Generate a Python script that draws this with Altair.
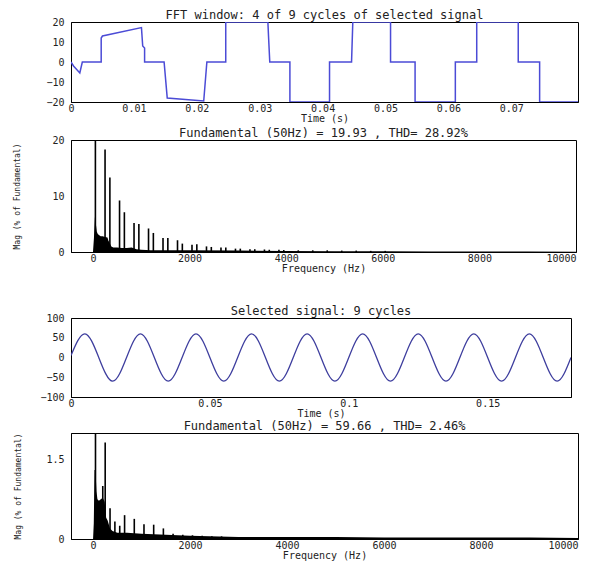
import altair as alt
import pandas as pd

# ---------------- data ----------------
# Panel 1: FFT window (4 of 9 cycles) of the selected signal
sig1_t = [0, 0.0004, 0.0014, 0.0018, 0.0048, 0.0048, 0.0050, 0.0112, 0.0114, 0.0117,
          0.0117, 0.0148, 0.0153, 0.0211, 0.0216, 0.0246, 0.0246, 0.0313, 0.0314, 0.0316,
          0.0348, 0.0348, 0.0411, 0.0411, 0.0446, 0.0448, 0.0508, 0.0508, 0.0547, 0.0547,
          0.0611, 0.0611, 0.0645, 0.0645, 0.0711, 0.0711, 0.0745, 0.0745, 0.0806]
sig1_v = [0, -2, -5.5, 0, 0, 12, 13, 17.2, 8, 7,
          0, 0, -18, -19.5, 0, 0, 20, 20, 13, 0,
          0, -20, -20, 0, 0, 20, 20, 0, 0, -20,
          -20, 0, 0, 20, 20, 0, 0, -20, -20]

# Panel 2: spectrum of the FFT window
h2_f = [50, 250, 350, 550, 650, 850, 950, 1150, 1250, 1450,
        1550, 1750, 1850, 2050, 2150, 2350, 2450, 2650, 2750, 2950,
        3050, 3250, 3350, 3550, 3650, 3850, 3950, 4250, 4550, 4850,
        5150, 5450, 5750, 6050]
h2_m = [100, 18.3, 13.3, 9.2, 7.1, 5.2, 5.0, 4.2, 3.4, 2.5,
        2.5, 2.1, 1.5, 1.3, 1.4, 1.0, 0.9, 0.8, 0.8, 0.6,
        0.6, 0.5, 0.5, 0.45, 0.4, 0.4, 0.35, 0.3, 0.3, 0.3,
        0.25, 0.25, 0.2, 0.2]
a2_f = [0, 20, 40, 60, 80, 100, 130, 160, 200, 250,
        300, 320, 350, 380, 420, 500, 600, 700, 800, 900,
        1000, 1200, 1500, 2000, 3000, 4000, 5000, 6000, 7000, 8000,
        9000, 10000]
a2_m = [0, 2.5, 6.2, 5.0, 3.6, 3.2, 3.0, 2.8, 2.8, 2.7,
        2.6, 2.0, 1.5, 1.0, 0.8, 0.8, 0.7, 0.7, 0.8, 0.5,
        0.4, 0.3, 0.3, 0.3, 0.25, 0.2, 0.15, 0.15, 0.1, 0.1,
        0.08, 0.05]

# Panel 3: selected signal, 9 cycles (samples every quarter period)
sig3_t = [0, 0.005, 0.010, 0.015, 0.020, 0.025, 0.030, 0.035, 0.040, 0.045,
          0.050, 0.055, 0.060, 0.065, 0.070, 0.075, 0.080, 0.085, 0.090, 0.095,
          0.100, 0.105, 0.110, 0.115, 0.120, 0.125, 0.130, 0.135, 0.140, 0.145,
          0.150, 0.155, 0.160, 0.165, 0.170, 0.175, 0.180]
sig3_v = [5, 60, 0, -60, 0, 60, 0, -60, 0, 60,
          0, -60, 0, 60, 0, -60, 0, 60, 0, -60,
          0, 60, 0, -60, 0, 60, 0, -60, 0, 60,
          0, -60, 0, 60, 0, -60, 0]

# Panel 4: spectrum of the selected signal
h4_f = [50, 200, 250, 350, 450, 550, 650, 850, 1050, 1250, 1450, 1650, 1850, 2050, 2250, 2450, 2650]
h4_m = [100, 1.0, 1.82, 0.58, 0.33, 0.25, 0.45, 0.38, 0.28, 0.27, 0.2, 0.1, 0.08, 0.07, 0.06, 0.05, 0.05]
a4_f = [0, 15, 30, 50, 70, 90, 120, 160, 200, 240,
        270, 300, 350, 400, 500, 700, 1000, 1500, 2000, 3000,
        4000, 5000, 6000, 7000, 8000, 9000, 10000]
a4_m = [0, 0.3, 1.3, 1.3, 0.9, 0.75, 0.72, 0.75, 0.78, 0.7,
        0.4, 0.35, 0.2, 0.15, 0.12, 0.12, 0.1, 0.08, 0.06, 0.04,
        0.04, 0.04, 0.03, 0.03, 0.03, 0.03, 0.02]

titles = [
    "FFT window: 4 of 9 cycles of selected signal",
    "Fundamental (50Hz) = 19.93 , THD= 28.92%",
    "Selected signal: 9 cycles",
    "Fundamental (50Hz) = 59.66 , THD= 2.46%",
]
ytitle_spec = "Mag (% of Fundamental)"
t_ticks1 = [0, 0.01, 0.02, 0.03, 0.04, 0.05, 0.06, 0.07]
t_ticks3 = [0, 0.05, 0.1, 0.15]
f_ticks = [0, 2000, 4000, 6000, 8000, 10000]

FONT = "DejaVu Sans Mono"
TXT = "#222222"


def title(txt, off=-5):
    return alt.TitleParams(txt, font=FONT, fontSize=12, fontWeight="normal", color=TXT, offset=off)


def xax(values, name, flush):
    return alt.Axis(values=values, title=name, format="~r", labelFlush=flush,
                    labelPadding=1, titlePadding=0)


def yax(values, name=None, tpad=0):
    if name is None:
        return alt.Axis(values=values, title=None, format="~r", labelPadding=7)
    return alt.Axis(values=values, title=name, format="~r", labelPadding=7,
                    titlePadding=tpad, titleFontSize=8)


# ---- panel 1 ----
d1 = pd.DataFrame({"t": sig1_t, "v": sig1_v, "i": list(range(len(sig1_t)))})
p1 = alt.Chart(d1).mark_line(color="#4b4bd6", strokeWidth=1.5, clip=True).encode(
    x=alt.X("t:Q", scale=alt.Scale(domain=[0, 0.0806], nice=False, zero=False),
            axis=xax(t_ticks1, "Time (s)", False)),
    y=alt.Y("v:Q", scale=alt.Scale(domain=[-20, 20], nice=False),
            axis=yax([-20, -10, 0, 10, 20])),
    order=alt.Order("i:Q"),
).properties(width=507, height=80, title=title(titles[0]))


# ---- spectrum panels ----
def spectrum(hf, hm, af, am, ymax, yticks, width, height, ttl, tpad, off):
    xs = alt.Scale(domain=[-455, 10000], nice=False, zero=False)
    ys = alt.Scale(domain=[0, ymax], nice=False)
    dh = pd.DataFrame({"f": hf, "m": hm})
    da = pd.DataFrame({"f": af, "m": am})
    area = alt.Chart(da).mark_area(color="black", clip=True).encode(
        x=alt.X("f:Q", scale=xs, axis=xax(f_ticks, "Frequency (Hz)", True)),
        y=alt.Y("m:Q", scale=ys, axis=yax(yticks, ytitle_spec, tpad)),
    )
    bars = alt.Chart(dh).mark_rule(color="black", strokeWidth=1.6, clip=True).encode(
        x=alt.X("f:Q", scale=xs),
        y=alt.Y("m:Q", scale=ys),
        y2=alt.datum(0),
    )
    return alt.layer(area, bars).properties(width=width, height=height, title=title(ttl, off))


p2 = spectrum(h2_f, h2_m, a2_f, a2_m, 20, [0, 5, 10, 15, 20], 505, 112, titles[1], 30, -5)

# ---- panel 3 ----
d3 = pd.DataFrame({"t": sig3_t, "v": sig3_v})
p3 = alt.Chart(d3).mark_line(color="#3e3e9e", strokeWidth=1.3, interpolate="natural", clip=True).encode(
    x=alt.X("t:Q", scale=alt.Scale(domain=[0, 0.18], nice=False, zero=False),
            axis=xax(t_ticks3, "Time (s)", False)),
    y=alt.Y("v:Q", scale=alt.Scale(domain=[-100, 100], nice=False),
            axis=yax([-100, -50, 0, 50, 100])),
).properties(width=500, height=79, title=title(titles[2]))

p4 = spectrum(h4_f, h4_m, a4_f, a4_m, 2, [0, 0.5, 1, 1.5], 507, 106, titles[3], 23, 0)

top = alt.vconcat(p1, p2, spacing=2)
bottom = alt.vconcat(p3, p4, spacing=0)

chart = alt.vconcat(top, bottom, spacing=30).properties(
    padding={"left": 5, "top": 0, "right": 0, "bottom": 0}
).configure_view(
    stroke="black", strokeWidth=1
).configure_axis(
    labelFont=FONT, labelFontSize=10, labelColor=TXT,
    titleFont=FONT, titleFontSize=10, titleColor=TXT, titleFontWeight="normal",
    grid=False, ticks=False, domainColor="black", domainWidth=1,
)

chart.save("out.html", embed_options={"renderer": "svg", "actions": False})
